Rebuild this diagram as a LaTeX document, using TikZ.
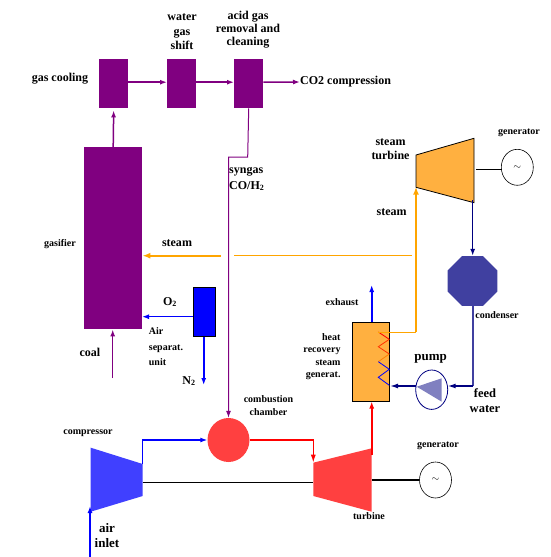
\documentclass[tikz,border=0pt]{standalone}
\usepackage{fontspec}
\setmainfont{Liberation Serif}
\usetikzlibrary{arrows.meta,shapes.geometric}

\definecolor{gaspurple}{HTML}{800080}
\definecolor{steamorange}{HTML}{FFA500}
\definecolor{hotorange}{HTML}{FFB040}
\definecolor{airblue}{HTML}{4040FF}
\definecolor{firered}{HTML}{FF4040}
\definecolor{waternavy}{HTML}{000080}
\definecolor{condblue}{HTML}{4040A0}
\definecolor{pumpblue}{HTML}{8080C0}

\tikzset{
  unitbox/.style={rectangle,draw=none,fill=gaspurple,inner sep=0,anchor=north west},
  pipe/.style={-{Latex[length=7pt,width=5pt]},line width=1.5pt},
  thinline/.style={line width=1pt},
  biglabel/.style={font=\bfseries\fontsize{12}{14}\selectfont,align=center,inner sep=0},
  smalllabel/.style={font=\bfseries\fontsize{10}{12.5}\selectfont,align=center,inner sep=0},
  gencircle/.style={ellipse,draw,line width=.6pt,minimum width=32pt,minimum height=36pt,inner sep=0},
  shaft/.style={line width=1.5pt}
}

\begin{document}
\begin{tikzpicture}[x=1pt,y=-1pt]
\useasboundingbox (0,0) rectangle (550,557);

% syngas path
\node at(99,59) (cool) [unitbox,minimum width=29pt,minimum height=49pt]{};
\node at(167,59) (shift) [unitbox,minimum width=29pt,minimum height=49pt]{};
\node at(234,59) (acid) [unitbox,minimum width=29pt,minimum height=49pt]{};
\node at(84,147) (gasifier) [unitbox,minimum width=58pt,minimum height=182pt]{};
\coordinate (co2end) at (300,82);
\coordinate (syngasbend) at (247.7,157);
\coordinate (coalstart) at (112.7,378);

\draw [pipe,gaspurple] ([yshift=1.5pt]cool.east) -- ([yshift=1.5pt]shift.west);
\draw [pipe,gaspurple] ([yshift=1.5pt]shift.east) -- ([yshift=1.5pt]acid.west);
\draw [pipe,gaspurple] ([yshift=1.5pt]acid.east) -- (co2end);
\draw [pipe,gaspurple,shorten >=2pt] (gasifier.north) -- (cool.south);
\draw [pipe,gaspurple] (coalstart) -- (gasifier.south -| coalstart);

\node at(60,79) (lcool) [biglabel]{gas cooling};
\node at(182,32) (lshift) [biglabel,font=\bfseries\fontsize{12}{14.5}\selectfont]{water\\gas\\shift};
\node at(248,30) (lacid) [biglabel,font=\bfseries\fontsize{12}{13}\selectfont]{acid gas\\removal and\\cleaning};
\node at(300,82) (lco2) [biglabel,anchor=west]{CO2 compression};
\node at(229,179) (lsyngas) [biglabel,anchor=west,align=left,font=\bfseries\fontsize{12}{16}\selectfont]{syngas\\CO/H\textsubscript{2}};
\node at(60,244) (lgasifier) [smalllabel]{gasifier};
\node at(90,352) (lcoal) [biglabel]{coal};

% air separation
\node at(193.3,287.3) (asu) [rectangle,draw,fill=blue,inner sep=0,anchor=north west,minimum width=21.4pt,minimum height=49pt]{};
\coordinate (n2end) at (203.7,385);
\coordinate (o2end) at (142,316.7);
\draw [pipe,blue] (asu.west |- o2end) -- (o2end);
\draw [pipe,blue,line width=2pt] (asu.south -| n2end) -- (n2end);
\node at(170,302) (lo2) [biglabel]{O\textsubscript{2}};
\node at(189,381) (ln2) [biglabel]{N\textsubscript{2}};
\node at(148.7,347) (lasu) [smalllabel,anchor=west,align=left,font=\bfseries\fontsize{10}{15.5}\selectfont]{Air\\separat.\\unit};

% gas turbine
\node at(228.5,440) (burner) [ellipse,fill=firered,inner sep=0,minimum width=42pt,minimum height=44pt]{};
\coordinate (compTL) at (90.7,447.7);
\coordinate (compTR) at (142.7,464);
\coordinate (compBR) at (142.7,496);
\coordinate (compBL) at (90.7,511.7);
\fill [airblue] (compTL) -- (compTR) -- (compBR) -- (compBL) -- cycle;
\coordinate (turbTL) at (313.3,462.7);
\coordinate (turbTR) at (371.7,448.3);
\coordinate (turbBR) at (371.7,511.7);
\coordinate (turbBL) at (313.3,496);
\fill [firered] (turbTL) -- (turbTR) -- (turbBR) -- (turbBL) -- cycle;
\node at(435.5,480) (gen1) [gencircle]{$\sim$};
\coordinate (airstart) at (90,557);
\coordinate (airtip) at (90,506);
\coordinate (shaftL) at (142.7,482.5);
\coordinate (shaftR) at (313.3,482.5);
\coordinate (gen1shaft) at (371.7,480);

\draw [pipe,blue] (airstart) -- (airtip);
\draw [-{Latex[length=7pt,width=5pt]},line width=1.3pt,blue] (compTR) |- (burner.west);
\draw [-{Latex[length=8pt,width=5pt]},line width=1.3pt,red] (burner.east) -| (turbTL);
\draw [shaft] (shaftL) -- (shaftR);
\draw [shaft] (gen1shaft) -- (gen1.west);
\draw [-{Latex[length=7pt,width=5pt]},line width=1pt,gaspurple] (acid.south) -- (syngasbend) -| (burner.north);

\node at(88,433) (lcomp) [smalllabel]{compressor};
\node at(107,535.5) (lair) [biglabel,font=\bfseries\fontsize{13}{15}\selectfont]{air\\inlet};
\node at(268.5,405.5) (lburner) [smalllabel]{combustion\\chamber};
\node at(369,516) (lturb) [smalllabel]{turbine};
\node at(438,445.7) (lgen1) [smalllabel]{generator};

% steam cycle
\node at(352.3,322.3) (hrsg) [rectangle,draw,line width=.8pt,fill=hotorange,inner sep=0,anchor=north west,minimum width=37pt,minimum height=78.4pt]{};
\coordinate (coilA) at (378.3,332);
\coordinate (coilB) at (389.3,339.3);
\coordinate (coilC) at (378.3,346.7);
\coordinate (coilD) at (389.3,354);
\coordinate (coilE) at (378.3,361.7);
\coordinate (coilF) at (389.3,369.3);
\coordinate (coilG) at (378.3,377.3);
\coordinate (coilH) at (389.3,385.3);
\coordinate (bendup) at (416,332);
\draw [red,line width=.8pt] (coilA) -- (coilB);
\draw [red!60!orange,line width=.8pt] (coilB) -- (coilC) -- (coilD);
\draw [orange,line width=.8pt] (coilD) -- (coilE);
\draw [blue,line width=.8pt] (coilE) -- (coilF) -- (coilG) -- (coilH);

\coordinate (stTL) at (416,155);
\coordinate (stTR) at (474,138.3);
\coordinate (stBR) at (474,202.7);
\coordinate (stBL) at (416,187.3);
\draw [fill=hotorange,line width=.8pt] (stTL) -- (stTR) -- (stBR) -- (stBL) -- cycle;
\node at(517.3,167.3) (gen2) [gencircle]{$\sim$};
\node at(472.5,281) (condenser) [regular polygon,regular polygon sides=8,fill=condblue,inner sep=0,minimum size=54pt]{};
\node at(431.7,389.7) (pump) [ellipse,draw=waternavy,line width=.8pt,inner sep=0,minimum width=32pt,minimum height=39.4pt]{};
\fill [pumpblue] (416.7,386.7) -- (441.7,378.3) -- (441.7,401.7) -- cycle;

\coordinate (exhausttop) at (371.7,285);
\coordinate (hrsgin) at (371.7,455);
\coordinate (steamtip) at (416,186.7);
\coordinate (condout) at (472.7,200);
\coordinate (feedbend) at (473,386);
\coordinate (gen2shaft) at (476,169.3);
\coordinate (fwend) at (447.7,386);
\coordinate (pumpout) at (416,386);

\draw [pipe,red,line width=2pt] (hrsgin) -- (hrsg.south -| hrsgin);
\draw [pipe,blue,line width=2pt] (hrsg.north -| exhausttop) -- (exhausttop);
\draw [steamorange,line width=1pt] (coilA) -- (bendup);
\draw [-{Latex[length=8pt,width=6pt]},steamorange,line width=2.2pt] (bendup) -- (steamtip);
\draw [pipe,waternavy] (condout) -- (condenser.north -| condout);
\draw [condblue,line width=1.2pt] (condenser.south -| feedbend) -- (feedbend);
\draw [-{Latex[length=8pt,width=5pt]},waternavy,line width=1.3pt] (feedbend) -- (fwend);
\draw [-{Latex[length=8pt,width=5pt]},waternavy,line width=1.3pt] (pumpout) -- (hrsg.east |- pumpout);
\draw [shaft] (gen2shaft) -- (gen2.west |- gen2shaft);

% steam to gasifier
\coordinate (steamfrom) at (220.7,255.7);
\coordinate (steamstub) at (234,255.7);
\coordinate (steamright) at (412,255.7);
\draw [-{Latex[length=8pt,width=6pt]},steamorange,line width=2.2pt] (steamfrom) -- (gasifier.east |- steamfrom);
\draw [steamorange,line width=1pt] (steamstub) -- (steamright);

\node at(390.5,149) (lst) [biglabel]{steam\\turbine};
\node at(519,133) (lgen2) [smalllabel]{generator};
\node at(391.7,211.7) (lsteam) [biglabel]{steam};
\node at(177,243) (lsteam2) [biglabel]{steam};
\node at(342,302) (lexh) [smalllabel]{exhaust};
\node at(340.7,356.5) (lhrsg) [smalllabel,anchor=east,align=right]{heat\\recovery\\steam\\generat.};
\node at(430.7,359) (lpump) [biglabel,font=\bfseries\fontsize{13}{15}\selectfont]{pump};
\node at(485,400.5) (lfeed) [biglabel,font=\bfseries\fontsize{12.5}{15}\selectfont]{feed\\water};
\node at(497,315) (lcond) [smalllabel]{condenser};

\end{tikzpicture}
\end{document}
